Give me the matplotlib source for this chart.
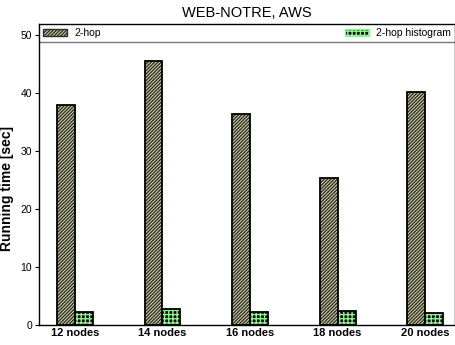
import matplotlib.pyplot as plt
import numpy as np

plt.rcParams['font.family'] = ['Liberation Sans', 'DejaVu Sans']
plt.rcParams['hatch.linewidth'] = 1.0

categories = ['12 nodes', '14 nodes', '16 nodes', '18 nodes', '20 nodes']
two_hop = [37.9, 45.6, 36.4, 25.3, 40.1]
two_hop_hist = [2.3, 2.7, 2.2, 2.4, 2.0]

x = np.arange(len(categories))
w = 0.205

fig = plt.figure(figsize=(4.56, 3.45), dpi=100)
ax = fig.add_axes([39 / 456, 20 / 345, 416 / 456, 301 / 345])

# 2-hop: khaki fill with dark diagonal hatch
ax.bar(x - w / 2, two_hop, w, color='#dcdcb4', edgecolor='#2e2e22',
       hatch='//////////', linewidth=0)
ax.bar(x - w / 2, two_hop, w, fill=False, edgecolor='black', linewidth=1.3)

# histogram: dark fill with light green brick hatch
ax.bar(x + w / 2, two_hop_hist, w, color='#0c0c0c', edgecolor='#8ef08e',
       hatch='++++', linewidth=0)
ax.bar(x + w / 2, two_hop_hist, w, fill=False, edgecolor='black', linewidth=1.3)

ax.set_xlim(-0.41, 4.34)
ax.set_ylim(0, 51.9)
ax.set_yticks([0, 10, 20, 30, 40, 50])
ax.set_xticks(x)
ax.set_xticklabels(categories, fontweight='bold', fontsize=8)
ax.tick_params(axis='y', labelsize=7.5, length=3, width=0.8, pad=2)
ax.tick_params(axis='x', length=0, pad=2)
ax.set_ylabel('Running time [sec]', fontweight='bold', fontsize=10)
ax.yaxis.set_label_coords(-0.06, 0.455)
ax.set_title('WEB-NOTRE, AWS', fontsize=10.5, pad=5)

for s in ax.spines.values():
    s.set_linewidth(1.0)

# legend band along the top
ax.axhline(48.8, color='#777777', linewidth=1.0)
h1 = plt.Rectangle((0, 0), 1, 1, facecolor='#dcdcb4', edgecolor='#2e2e22', hatch='//////////')
h2 = plt.Rectangle((0, 0), 1, 1, facecolor='#0c0c0c', edgecolor='#8ef08e', hatch='++++')
leg_kw = dict(frameon=False, fontsize=7.5, handlelength=2.3, handleheight=0.55,
              handletextpad=0.7, borderaxespad=0.2, borderpad=0.2)
leg1 = ax.legend([h1], ['2-hop'], loc='upper left', **leg_kw)
ax.add_artist(leg1)
ax.legend([h2], ['2-hop histogram'], loc='upper right', **leg_kw)

plt.savefig('out.png', dpi=100)
